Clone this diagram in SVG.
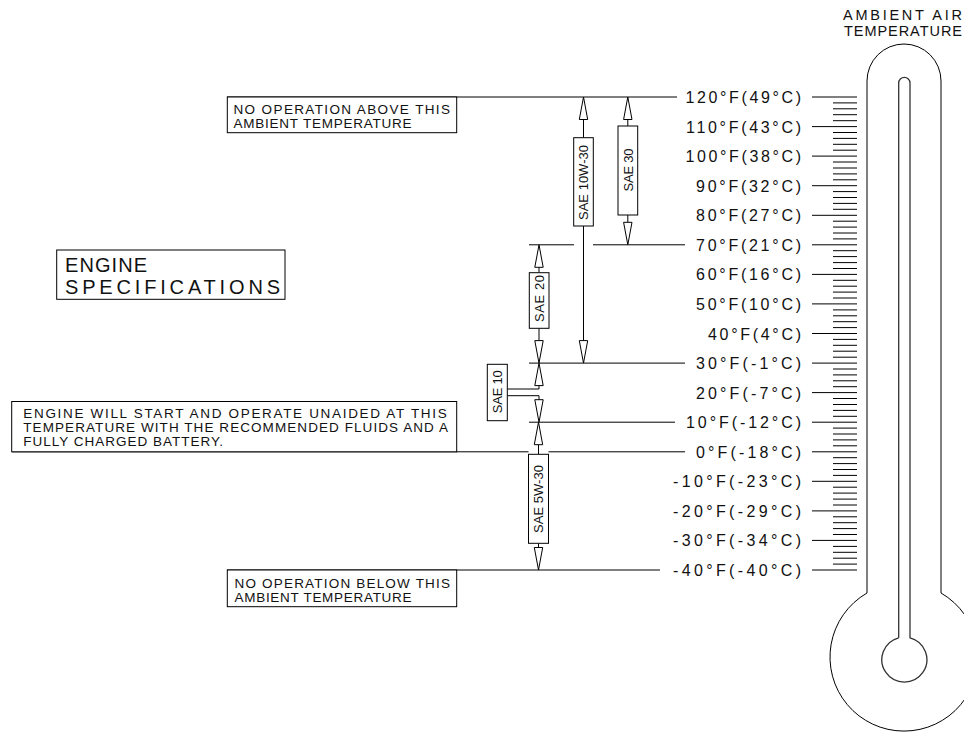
<svg xmlns="http://www.w3.org/2000/svg" width="964" height="733" viewBox="0 0 964 733">
<style>
text{font-family:"Liberation Sans",Arial,sans-serif;fill:#111;}
.lbl{font-size:16px;}
.note{font-size:13.5px;}
.title{font-size:20px;}
.sae{font-size:13px;}
.amb{font-size:14.5px;}
.ln{stroke:#000;stroke-width:1;fill:none;}
.box{stroke:#000;stroke-width:1;fill:#fff;}
.ah{stroke:#000;stroke-width:1;fill:#fff;stroke-linejoin:miter;}
.thermo{stroke:#000;stroke-width:1;fill:none;}
.tube{stroke:#333;stroke-width:1.3;fill:none;}
</style>
<defs>
<path id="ah" class="ah" d="M0,0 L-4.2,22.5 L4.2,22.5 Z"/>
</defs>
<rect width="964" height="733" fill="#fff"/>

<g id="connectors">
<path class="ln" d="M227,97 H677 M529,244.8 H574 M593,244.8 H685 M529,363.1 H685 M529,422.2 H675 M12,451.8 H528.5 M548.5,451.8 H685 M227,570 H660"/>
<path class="ln" d="M583.5,120 V137.7 M583.5,226 V340.5"/>
<path class="ln" d="M627.8,119.5 V126 M627.8,215 V222.3"/>
<path class="ln" d="M539,267.3 V272.7 M539,328.3 V340.6"/>
<path class="ln" d="M539,385.6 V389 H507.3 M507.3,395.7 H539 V399.7"/>
<path class="ln" d="M538.5,444.7 V454.3 M538.5,543.3 V547.5"/>
<use href="#ah" transform="translate(583.5,97)"/>
<use href="#ah" transform="translate(583.5,363.1) rotate(180)"/>
<use href="#ah" transform="translate(627.8,97)"/>
<use href="#ah" transform="translate(627.8,244.8) rotate(180)"/>
<use href="#ah" transform="translate(539,244.8)"/>
<use href="#ah" transform="translate(539,363.1) rotate(180)"/>
<use href="#ah" transform="translate(539,363.1)"/>
<use href="#ah" transform="translate(539,422.2) rotate(180)"/>
<use href="#ah" transform="translate(538.5,422.2)"/>
<use href="#ah" transform="translate(538.5,570) rotate(180)"/>
</g>

<g id="note-above">
<rect class="box" x="227.3" y="97" width="229.4" height="35.7"/>
<text class="note" x="233.5" y="114" textLength="216.5" lengthAdjust="spacing">NO OPERATION ABOVE THIS</text>
<text class="note" x="233.5" y="128" textLength="178" lengthAdjust="spacing">AMBIENT TEMPERATURE</text>
</g>

<g id="note-start">
<rect class="box" x="11.7" y="401.5" width="445" height="50.3"/>
<text class="note" x="23.3" y="418" textLength="423.4" lengthAdjust="spacing">ENGINE WILL START AND OPERATE UNAIDED AT THIS</text>
<text class="note" x="23.3" y="432" textLength="424.7" lengthAdjust="spacing">TEMPERATURE WITH THE RECOMMENDED FLUIDS AND A</text>
<text class="note" x="23.3" y="446" textLength="199.7" lengthAdjust="spacing">FULLY CHARGED BATTERY.</text>
</g>

<g id="note-below">
<rect class="box" x="227.3" y="570" width="229.4" height="36.7"/>
<text class="note" x="234.5" y="588" textLength="215.5" lengthAdjust="spacing">NO OPERATION BELOW THIS</text>
<text class="note" x="234.5" y="602" textLength="177" lengthAdjust="spacing">AMBIENT TEMPERATURE</text>
</g>

<g id="engine-specs">
<rect class="box" x="56.7" y="250" width="228.3" height="49.3"/>
<text class="title" x="65" y="271.5" textLength="82" lengthAdjust="spacing">ENGINE</text>
<text class="title" x="65" y="293.5" textLength="215" lengthAdjust="spacing">SPECIFICATIONS</text>
</g>

<g id="sae-10w30">
<rect class="box" x="573.7" y="137.7" width="19.6" height="88.3"/>
<text class="sae" transform="translate(583.5,182.5) rotate(-90)" x="-37.5" y="4.7" textLength="75" lengthAdjust="spacing">SAE 10W-30</text>
</g>
<g id="sae-30">
<rect class="box" x="618" y="126" width="19.7" height="89"/>
<text class="sae" transform="translate(627.8,170) rotate(-90)" x="-21.5" y="4.7" textLength="43" lengthAdjust="spacing">SAE 30</text>
</g>
<g id="sae-20">
<rect class="box" x="529.3" y="272.7" width="19.7" height="55.6"/>
<text class="sae" transform="translate(539.2,298.5) rotate(-90)" x="-23.5" y="4.7" textLength="47" lengthAdjust="spacing">SAE 20</text>
</g>
<g id="sae-10">
<rect class="box" x="487.3" y="364.3" width="20" height="56.4"/>
<text class="sae" transform="translate(497.3,391.7) rotate(-90)" x="-21.5" y="4.7" textLength="43" lengthAdjust="spacing">SAE 10</text>
</g>
<g id="sae-5w30">
<rect class="box" x="528.5" y="454.3" width="20" height="89"/>
<text class="sae" transform="translate(538.5,499) rotate(-90)" x="-34" y="4.7" textLength="68" lengthAdjust="spacing">SAE 5W-30</text>
</g>

<g id="scale-labels">
<text class="lbl" x="685.5" y="103" textLength="115.5" lengthAdjust="spacing">120°F(49°C)</text>
<text class="lbl" x="686" y="132.6" textLength="115" lengthAdjust="spacing">110°F(43°C)</text>
<text class="lbl" x="685.5" y="162.1" textLength="115.5" lengthAdjust="spacing">100°F(38°C)</text>
<text class="lbl" x="696" y="191.7" textLength="105" lengthAdjust="spacing">90°F(32°C)</text>
<text class="lbl" x="696" y="221.3" textLength="105" lengthAdjust="spacing">80°F(27°C)</text>
<text class="lbl" x="696" y="250.8" textLength="105" lengthAdjust="spacing">70°F(21°C)</text>
<text class="lbl" x="696" y="280.4" textLength="105" lengthAdjust="spacing">60°F(16°C)</text>
<text class="lbl" x="696" y="309.9" textLength="105" lengthAdjust="spacing">50°F(10°C)</text>
<text class="lbl" x="708" y="339.5" textLength="93" lengthAdjust="spacing">40°F(4°C)</text>
<text class="lbl" x="696" y="369.1" textLength="105" lengthAdjust="spacing">30°F(-1°C)</text>
<text class="lbl" x="696" y="398.6" textLength="105" lengthAdjust="spacing">20°F(-7°C)</text>
<text class="lbl" x="686" y="428.2" textLength="115" lengthAdjust="spacing">10°F(-12°C)</text>
<text class="lbl" x="696" y="457.8" textLength="105" lengthAdjust="spacing">0°F(-18°C)</text>
<text class="lbl" x="673" y="487.3" textLength="128" lengthAdjust="spacing">-10°F(-23°C)</text>
<text class="lbl" x="673" y="516.9" textLength="128" lengthAdjust="spacing">-20°F(-29°C)</text>
<text class="lbl" x="673" y="546.4" textLength="128" lengthAdjust="spacing">-30°F(-34°C)</text>
<text class="lbl" x="673" y="576" textLength="128" lengthAdjust="spacing">-40°F(-40°C)</text>
</g>

<g id="scale-ticks">
<path class="ln" d="M812,97 H857 M812,126.6 H857 M812,156.1 H857 M812,185.7 H857 M812,215.3 H857 M812,244.8 H857 M812,274.4 H857 M812,303.9 H857 M812,333.5 H857 M812,363.1 H857 M812,392.6 H857 M812,422.2 H857 M812,451.8 H857 M812,481.3 H857 M812,510.9 H857 M812,540.4 H857 M812,570 H857"/>
<path class="ln" d="M833,102.9 H857 M833,108.8 H857 M833,114.7 H857 M833,120.7 H857 M833,132.5 H857 M833,138.4 H857 M833,144.3 H857 M833,150.2 H857 M833,162 H857 M833,168 H857 M833,173.9 H857 M833,179.8 H857 M833,191.6 H857 M833,197.5 H857 M833,203.4 H857 M833,209.3 H857 M833,221.2 H857 M833,227.1 H857 M833,233 H857 M833,238.9 H857 M833,250.7 H857 M833,256.6 H857 M833,262.6 H857 M833,268.5 H857 M833,280.3 H857 M833,286.2 H857 M833,292.1 H857 M833,298 H857 M833,309.9 H857 M833,315.8 H857 M833,321.7 H857 M833,327.6 H857 M833,339.4 H857 M833,345.3 H857 M833,351.2 H857 M833,357.2 H857 M833,369 H857 M833,374.9 H857 M833,380.8 H857 M833,386.7 H857 M833,398.5 H857 M833,404.5 H857 M833,410.4 H857 M833,416.3 H857 M833,428.1 H857 M833,434 H857 M833,439.9 H857 M833,445.8 H857 M833,457.7 H857 M833,463.6 H857 M833,469.5 H857 M833,475.4 H857 M833,487.2 H857 M833,493.1 H857 M833,499.1 H857 M833,505 H857 M833,516.8 H857 M833,522.7 H857 M833,528.6 H857 M833,534.5 H857 M833,546.4 H857 M833,552.3 H857 M833,558.2 H857 M833,564.1 H857"/>
</g>

<g id="thermometer">
<path class="thermo" d="M867,593 V81 A37,37 0 0 1 941,81 V593 A74,74 0 1 1 867,593"/>
<path class="tube" d="M898.7,637.8 V83 A5.65,5.65 0 0 1 910,83 V637.8 A22.5,22.5 0 1 1 898.7,637.8"/>
<text class="amb" x="843" y="19.5" textLength="119" lengthAdjust="spacing">AMBIENT AIR</text>
<text class="amb" x="844" y="35.5" textLength="118" lengthAdjust="spacing">TEMPERATURE</text>
</g>
</svg>
